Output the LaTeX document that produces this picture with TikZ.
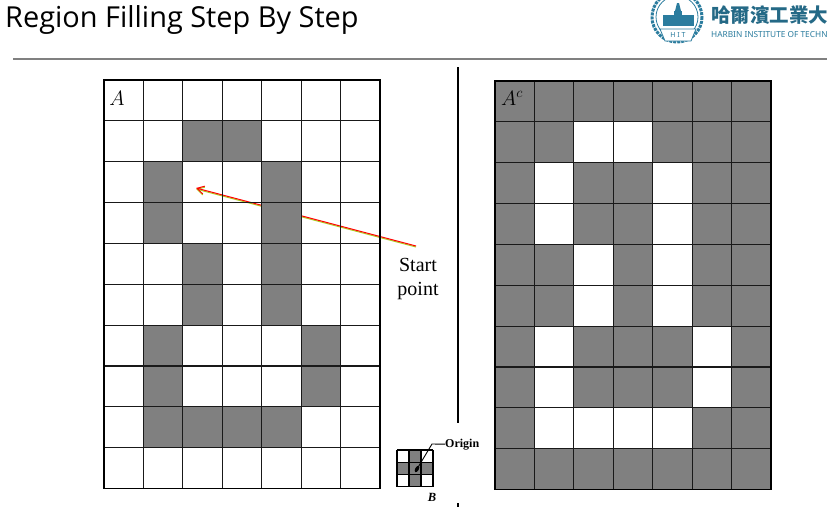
\documentclass[tikz,border=0pt]{standalone}
\usepackage{fontspec}
\setmainfont{Liberation Serif}
\newfontfamily\titlefont{Open Sans}
\newfontfamily\hitfont{Noto Sans}
\newfontfamily\cjk{Noto Sans CJK TC}
\usetikzlibrary{positioning, arrows.meta, calc}
\definecolor{cellgray}{gray}{0.5}
\definecolor{hitblue}{HTML}{2B7C9E}

\begin{document}
\begin{tikzpicture}[
    x=1pt, y=-1pt, % one unit is one pixel of the slide
    % Styles
    cell/.style={ % Dark cell of a grid
        fill=cellgray,
        draw=none
    },
    gridline/.style={ % Lines between the cells
        draw=black!90,
        line width=1.1pt
    },
    gridframe/.style={ % Outer frame of a grid
        draw=black,
        line width=1.9pt
    },
    label/.style={ % Printed words
        font=\fontsize{20}{24}\selectfont,
        align=center,
        inner sep=0pt
    },
    arrowc/.style={ % Coloured strand of the start arrow
        -{Straight Barb[length=7pt, width=8pt]},
        line width=1pt
    }
]
    \useasboundingbox (0,0) rectangle (827,507);

    % Title and rule
    \node[anchor=base west, inner sep=0pt, font=\fontsize{28.9}{30}\selectfont\titlefont] (title) at (5,27) {Region Filling Step By Step};
    \coordinate (ruleL) at (13,59);
    \coordinate (ruleR) at (827,59);
    \draw[black!50, line width=1.2pt] (ruleL) -- (ruleR);

    % Logo
    \begin{scope}[hitblue, line width=0.8pt]
        \draw (677,17) circle (21);
        \draw[densely dotted, line width=3pt] (677,17) circle (25);
        \fill (663,15) rectangle (694,26);
        \fill (674,11) rectangle (682,15);
        \fill (677,3) -- (679,3) -- (681,11) -- (675,11) -- cycle;
        \draw[fill=white] (660,29) -- (696,29) -- (691,41) -- (665,41) -- cycle;
    \end{scope}
    \node[inner sep=0pt, hitblue, font=\fontsize{7}{8}\selectfont\bfseries\hitfont] (hitmark) at (678,35) {H I T};
    \node[anchor=base west, inner sep=0pt, text=hitblue!85!black, font=\fontsize{19.5}{20}\selectfont\cjk\bfseries] (hitcn) at (711,22) {哈爾濱工業大};
    \node[anchor=base west, inner sep=0pt, text=hitblue, font=\fontsize{8.3}{10}\selectfont\hitfont] (hiten) at (711,37) {HARBIN INSTITUTE OF TECHN};

    % Start label and its arrow, under the dark cells
    \node[label, anchor=north] (startlbl) at (418,258) {Start\\point};
    \coordinate (seed) at (196,188);
    \coordinate (tail) at (416,246);
    \draw[arrowc, draw={rgb,255:red,170;green,205;blue,30}] ($(tail)+(0,1)$) -- ($(seed)+(0,1)$);
    \draw[arrowc, red] (tail) -- (seed);

    % Grid A
    \begin{scope}[shift={(104,80)}, x=39.43pt, y=-40.85pt]
        \foreach \r/\c in {1/2, 1/3, 2/1, 2/4, 3/1, 3/4, 4/2, 4/4, 5/2, 5/4, 6/1, 6/5, 7/1, 7/5, 8/1, 8/2, 8/3, 8/4}
            \path[cell] (\c,\r) rectangle ++(1,1);
        \foreach \c in {1,...,6}
            \draw[gridline] (\c,0) -- (\c,10);
        \foreach \r in {1,...,9}
            \draw[gridline] (0,\r) -- (7,\r);
        \draw[gridframe] (0,0) rectangle (7,10);
    \end{scope}
    \node[inner sep=0pt, font=\fontsize{20}{20}\selectfont] (labelA) at (117,98) {$A$};

    % Divider
    \coordinate (divT) at (458,67);
    \coordinate (divB) at (458,423);
    \draw[line width=2pt] (divT) -- (divB);
    \coordinate (tickT) at (458,503);
    \coordinate (tickB) at (458,507);
    \draw[line width=2pt] (tickT) -- (tickB);

    % Grid A complement
    \begin{scope}[shift={(495,81)}, x=39.43pt, y=-40.85pt]
        \fill[cellgray] (0,0) rectangle (7,10);
        \foreach \r/\c in {1/2, 1/3, 2/1, 2/4, 3/1, 3/4, 4/2, 4/4, 5/2, 5/4, 6/1, 6/5, 7/1, 7/5, 8/1, 8/2, 8/3, 8/4}
            \fill[white] (\c,\r) rectangle ++(1,1);
        \foreach \c in {1,...,6}
            \draw[gridline] (\c,0) -- (\c,10);
        \foreach \r in {1,...,9}
            \draw[gridline] (0,\r) -- (7,\r);
        \draw[gridframe] (0,0) rectangle (7,10);
    \end{scope}
    \node[inner sep=0pt, font=\fontsize{20}{20}\selectfont] (labelAc) at (512,98) {$A^c$};

    % Structuring element
    \begin{scope}[shift={(397,450)}, x=12pt, y=-12.3pt]
        \fill[cellgray] (1,0) rectangle (2,3);
        \fill[cellgray] (0,1) rectangle (3,2);
        \foreach \k in {0,...,3} {
            \draw[line width=1.1pt] (\k,0) -- (\k,3);
            \draw[line width=1.1pt] (0,\k) -- (3,\k);
        }
    \end{scope}
    \node[inner sep=0pt, anchor=base west, font=\fontsize{12}{12}\selectfont\bfseries] (origin) at (445,447) {Origin};
    \coordinate (originpt) at (417,469);
    \draw[line width=0.9pt] (origin.west) -- (432,444) -- (originpt);
    \fill[rotate around={60:(417,469)}] (417,469) ellipse (3.5 and 1.8);
    \node[inner sep=0pt, font=\fontsize{12.5}{12}\selectfont\bfseries\itshape] (labelB) at (432,497) {B};
\end{tikzpicture}
\end{document}
